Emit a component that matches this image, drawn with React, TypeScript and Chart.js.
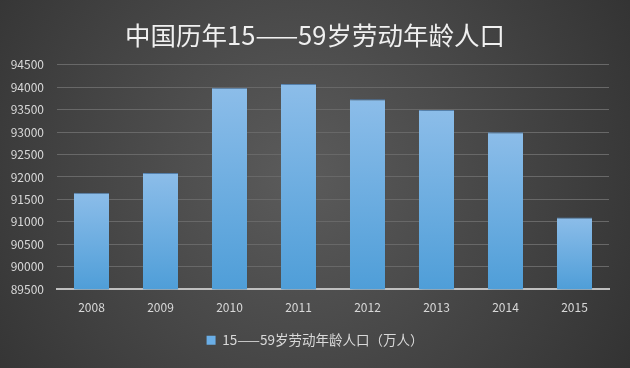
import React, { useEffect, useRef } from "react";
import { Chart, registerables } from "chart.js";

Chart.register(...registerables);

const years = ["2008", "2009", "2010", "2011", "2012", "2013", "2014", "2015"];
const population = [91650, 92090, 93985, 94068, 93727, 93490, 92993, 91095];
const seriesLabel = "15——59岁劳动年龄人口（万人）";
const titleText = "中国历年15——59岁劳动年龄人口";
const yMin = 89500;
const yMax = 94500;
const yStep = 500;

const FONT = "'Noto Sans CJK SC', 'Noto Sans', sans-serif";

const backgroundPlugin = {
  id: "bgGradient",
  beforeDraw(chart: any) {
    const { ctx, width, height } = chart;
    ctx.save();
    const g = ctx.createRadialGradient(300, 175, 10, 300, 175, 380);
    g.addColorStop(0, "#5a5a5a");
    g.addColorStop(1, "#333333");
    ctx.fillStyle = g;
    ctx.fillRect(0, 0, width, height);
    ctx.restore();
  },
};

const shadowPlugin = {
  id: "barShadow",
  beforeDatasetsDraw(chart: any) {
    const ctx = chart.ctx;
    ctx.save();
    ctx.shadowColor = "rgba(0,0,0,0.45)";
    ctx.shadowBlur = 4;
    ctx.shadowOffsetX = 2;
    ctx.shadowOffsetY = 1;
  },
  afterDatasetsDraw(chart: any) {
    chart.ctx.restore();
  },
};

export default function App() {
  const ref = useRef<HTMLCanvasElement | null>(null);

  useEffect(() => {
    if (!ref.current) return;
    const chart = new Chart(ref.current, {
      type: "bar",
      data: {
        labels: years,
        datasets: [
          {
            label: seriesLabel,
            data: population,
            yAxisID: "y",
            backgroundColor: (c: any) => {
              const ch = c.chart;
              if (!ch.chartArea || c.raw == null) return "#6aaee6";
              const y = ch.scales.y;
              const top = y.getPixelForValue(c.raw as number);
              const bot = y.getPixelForValue(yMin);
              const g = ch.ctx.createLinearGradient(0, top, 0, bot);
              g.addColorStop(0, "#8cbde9");
              g.addColorStop(1, "#4f9ed8");
              return g;
            },
            borderColor: "#5f8fbf",
            borderWidth: { top: 1, left: 0, right: 0, bottom: 0 },
            barPercentage: 0.51,
            categoryPercentage: 1.0,
          },
        ],
      },
      options: {
        responsive: false,
        animation: false,
        layout: { padding: { top: 0, right: 0, bottom: 11, left: 0 } },
        plugins: {
          title: {
            display: true,
            text: titleText,
            color: "#f0f0f0",
            font: { family: FONT, size: 25.5, weight: "normal" },
            padding: { top: 20, bottom: 14 },
          },
          legend: {
            display: true,
            position: "bottom",
            labels: {
              color: "#d9d9d9",
              font: { family: FONT, size: 13.5 },
              boxWidth: 9,
              boxHeight: 9,
              padding: 10,
              generateLabels: () => [
                {
                  text: seriesLabel,
                  fillStyle: "#6aaee6",
                  strokeStyle: "#6aaee6",
                  lineWidth: 0,
                  hidden: false,
                  datasetIndex: 0,
                  fontColor: "#d9d9d9",
                } as any,
              ],
            },
          },
          tooltip: { enabled: false },
        },
        scales: {
          x: {
            grid: { display: false, drawTicks: false },
            border: { display: true, color: "#bfbfbf", width: 2 },
            ticks: { color: "#d9d9d9", font: { family: FONT, size: 12 }, padding: 11 },
            afterFit: (s: any) => {
              s.height = 34.2;
            },
          },
          y: {
            position: "left",
            min: yMin,
            max: yMax,
            grid: { color: "#686868", lineWidth: 1, drawTicks: false },
            border: { display: false },
            ticks: {
              stepSize: yStep,
              color: "#d9d9d9",
              font: { family: FONT, size: 12 },
              padding: 13,
              callback: (v: any) => String(v),
            },
            afterFit: (s: any) => {
              s.width = 57;
            },
          },
          yRight: {
            position: "right",
            min: yMin,
            max: yMax,
            grid: { display: false, drawTicks: false },
            border: { display: false },
            ticks: { display: false },
            afterFit: (s: any) => {
              s.width = 21;
            },
          },
        },
      },
      plugins: [backgroundPlugin, shadowPlugin],
    });
    return () => chart.destroy();
  }, []);

  return (
    <div style={{ position: "absolute", left: 0, top: 0, width: 630, height: 368 }}>
      <canvas ref={ref} width={630} height={368} style={{ display: "block", width: 630, height: 368 }} />
    </div>
  );
}
